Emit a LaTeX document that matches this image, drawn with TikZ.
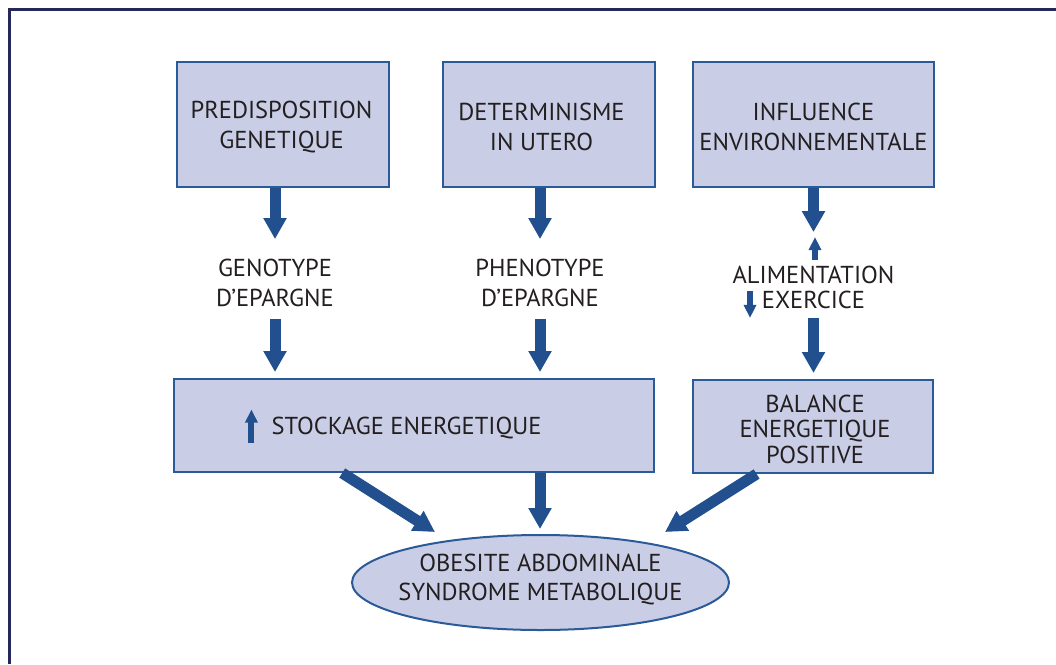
\documentclass[tikz,border=0pt]{standalone}
\usepackage{fontspec}
\setmainfont{PT Sans}
\usetikzlibrary{arrows.meta,shapes.geometric,calc}
\definecolor{frameblue}{HTML}{26285C}
\definecolor{boxline}{HTML}{2B5A98}
\definecolor{boxfill}{HTML}{C9CEE6}
\definecolor{arrowblue}{HTML}{22508F}
\definecolor{txt}{HTML}{231F20}
\newcommand{\fs}{\fontsize{24.5}{30}\selectfont}
\newcommand{\fsb}{\fontsize{24.5}{25.5}\selectfont}
\tikzset{
  frameline/.style={draw=frameblue, line width=3pt},
  box/.style={draw=boxline, fill=boxfill, line width=2pt, inner sep=0pt},
  lbl/.style={align=center, font=\fs, text=txt, inner sep=0pt},
  lblb/.style={align=center, font=\fsb, text=txt, inner sep=0pt},
  bigarrow/.style={draw=arrowblue, line width=11pt, -{Triangle[width=22pt,length=21pt]}},
  smallarrow/.style={draw=arrowblue, line width=6pt, -{Triangle[width=12pt,length=13pt]}},
}
\begin{document}
\begin{tikzpicture}[x=1pt,y=-1pt]
\useasboundingbox (0,0) rectangle (1056,664);
\draw[frameline] (9.5,664) -- (9.5,9.5) -- (1056,9.5);

% top boxes
\node[box, minimum width=212pt, minimum height=125pt] (b1) at (283,124.5) {};
\node[lbl] (t1) at (281.5,127) {PREDISPOSITION\\GENETIQUE};
\node[box, minimum width=212pt, minimum height=125pt] (b2) at (549,124.5) {};
\node[lbl] (t2) at (541.5,127) {DETERMINISME\\IN UTERO};
\node[box, minimum width=241pt, minimum height=125pt] (b3) at (813.5,124.5) {};
\node[lbl] (t3) at (813.5,127) {INFLUENCE\\ENVIRONNEMENTALE};

% middle labels
\node[lbl] (gen) at (275,282.75) {GENOTYPE\\D'EPARGNE};
\node[lbl] (phen) at (540,282.75) {PHENOTYPE\\D'EPARGNE};
\node[lblb] (ali) at (813.5,287.5) {ALIMENTATION\\EXERCICE};

% lower boxes
\node[box, minimum width=480pt, minimum height=93pt] (b4) at (414,425.5) {};
\node[lbl] (stock) at (406.5,428.5) {STOCKAGE ENERGETIQUE};
\node[box, minimum width=240pt, minimum height=93pt] (b5) at (813,426.5) {};
\node[lblb] (t5) at (815,429) {BALANCE\\ENERGETIQUE\\POSITIVE};

% ellipse
\node[ellipse, draw=boxline, fill=boxfill, line width=2pt, inner sep=0pt,
      minimum width=377pt, minimum height=95pt] (ell) at (540.5,582.5) {};
\node[align=center, font=\fontsize{24.5}{29}\selectfont, text=txt, inner sep=0pt] (tell) at (540.5,579.5)
      {OBESITE ABDOMINALE\\SYNDROME METABOLIQUE};

% vertical arrows
\draw[bigarrow, shorten >=19.6pt] (gen.north |- b1.south) -- (gen.north);
\draw[bigarrow, shorten <=12pt, shorten >=6pt] (gen.south) -- (gen.south |- b4.north);
\draw[bigarrow, shorten >=19.6pt] (phen.north |- b2.south) -- (phen.north);
\draw[bigarrow, shorten <=12pt, shorten >=6pt] (phen.south) -- (phen.south |- b4.north);
\draw[bigarrow, shorten >=33.6pt] (b3.south) -- (b3.south |- ali.north);
\draw[bigarrow, shorten <=8.6pt, shorten >=6pt] (b3.south |- ali.south) -- (b3.south |- b5.north);

% small arrows
\draw[smallarrow] ($(ali.north)+(1.5,-5.6)$) -- ++(0,-23);
\draw[smallarrow] ($(ali.south)+(-63.5,-18.4)$) -- ++(0,27);
\draw[smallarrow] ($(stock.west)+(-20,14)$) -- ++(0,-33);

% arrows to ellipse
\draw[bigarrow] ($(b4.south west)!0.351!(b4.south east)$) -- ($(ell.center)+(-105.5,-50.5)$);
\draw[bigarrow, shorten >=5pt] (phen.south |- b4.south) -- (phen.south |- ell.north);
\draw[bigarrow] ($(b5.south west)!0.267!(b5.south east)$) -- ($(ell.center)+(124.5,-50.5)$);
\end{tikzpicture}
\end{document}
